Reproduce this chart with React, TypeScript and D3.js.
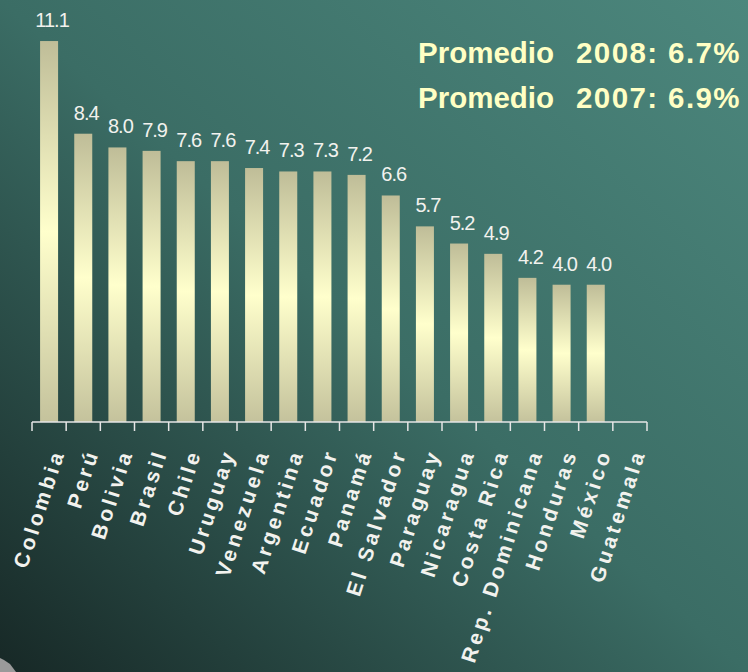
import React, { useEffect, useRef } from 'react';
import * as d3 from 'd3';

const countries = [
  'Colombia', 'Perú', 'Bolivia', 'Brasil', 'Chile', 'Uruguay', 'Venezuela', 'Argentina', 'Ecuador',
  'Panamá', 'El Salvador', 'Paraguay', 'Nicaragua', 'Costa Rica', 'Rep. Dominicana', 'Honduras',
  'México', 'Guatemala',
];
// Guatemala has no bar in the original
const values: (number | null)[] = [
  11.1, 8.4, 8.0, 7.9, 7.6, 7.6, 7.4, 7.3, 7.3, 7.2, 6.6, 5.7, 5.2, 4.9, 4.2, 4.0, 4.0, null,
];
const notes = ['Promedio 2008: 6.7%', 'Promedio 2007: 6.9%'];

function App() {
  const svgRef = useRef<SVGSVGElement>(null);

  useEffect(() => {
    const width = 748;
    const height = 672;
    const svg = d3.select(svgRef.current);
    svg.selectAll('*').remove();
    svg.attr('width', width).attr('height', height);

    const defs = svg.append('defs');
    const bg = defs.append('linearGradient').attr('id', 'bg')
      .attr('x1', 0).attr('y1', 1).attr('x2', 1).attr('y2', 0);
    bg.append('stop').attr('offset', '0%').attr('stop-color', '#172826');
    bg.append('stop').attr('offset', '50%').attr('stop-color', '#3b6d65');
    bg.append('stop').attr('offset', '100%').attr('stop-color', '#4c877d');

    const barGrad = defs.append('linearGradient').attr('id', 'bar')
      .attr('x1', 0).attr('y1', 0).attr('x2', 0).attr('y2', 1);
    barGrad.append('stop').attr('offset', '0%').attr('stop-color', '#bfbd98');
    barGrad.append('stop').attr('offset', '50%').attr('stop-color', '#ffffcc');
    barGrad.append('stop').attr('offset', '100%').attr('stop-color', '#c4c29c');

    svg.append('rect').attr('width', width).attr('height', height).attr('fill', 'url(#bg)');
    svg.append('path').attr('d', 'M0,658 L4,660 L10,664 L16,672 L0,672 Z').attr('fill', '#9a9a9a');

    const x0 = 32;
    const x1 = 647;
    const base = 422;
    const pad = 0.473;

    const x = d3.scaleBand().domain(countries).range([x0, x1])
      .paddingInner(pad).paddingOuter(pad / 2);
    const y = d3.scaleLinear().domain([0, 12]).range([base, base - 12 * 34.32]);

    const data = countries.map((c, i) => ({ c, v: values[i] }));
    const withBars = data.filter(d => d.v != null);

    svg.append('g').selectAll('rect').data(withBars).join('rect')
      .attr('x', d => x(d.c)!)
      .attr('y', d => y(d.v!))
      .attr('width', x.bandwidth())
      .attr('height', d => base - y(d.v!))
      .attr('fill', 'url(#bar)');

    svg.append('g').selectAll('text').data(withBars).join('text')
      .attr('x', d => x(d.c)! + x.bandwidth() / 2 + 3)
      .attr('y', d => y(d.v!) - 14)
      .attr('text-anchor', 'middle')
      .attr('font-family', 'Liberation Sans, Arial, sans-serif')
      .attr('font-size', 20)
      .attr('letter-spacing', -1)
      .attr('fill', '#f2f2ee')
      .text(d => d.v!.toFixed(1));

    // axis with ticks at band boundaries
    const step = x.step();
    const ax = svg.append('g').attr('stroke', '#e6e6e6').attr('stroke-width', 1.5);
    ax.append('line').attr('x1', x0).attr('x2', x1).attr('y1', base).attr('y2', base);
    ax.selectAll('line.tick').data(d3.range(countries.length + 1)).join('line')
      .attr('class', 'tick')
      .attr('x1', i => x0 + i * step).attr('x2', i => x0 + i * step)
      .attr('y1', base).attr('y2', base + 9);

    svg.append('g').selectAll('text').data(countries).join('text')
      .attr('transform', c => `translate(${x(c)! + x.bandwidth() / 2 + 16},${base + 30}) rotate(-72)`)
      .attr('text-anchor', 'end')
      .attr('font-family', 'Liberation Sans, Arial, sans-serif')
      .attr('font-weight', 'bold')
      .attr('font-size', 21)
      .attr('letter-spacing', 3.5)
      .attr('fill', '#f2f2ee')
      .text(c => c);

    const noteText = svg.append('g').selectAll('text').data(notes).join('text')
      .attr('x', 418)
      .attr('y', (d, i) => 63 + i * 45)
      .attr('font-family', 'Liberation Sans, Arial, sans-serif')
      .attr('font-weight', 'bold')
      .attr('font-size', 29.5)
      .attr('fill', '#ffffc4');
    noteText.append('tspan').text(d => d.slice(0, d.indexOf(' ')));
    noteText.append('tspan')
      .attr('dx', 22)
      .attr('letter-spacing', 1.4)
      .text(d => d.slice(d.indexOf(' ') + 1));
  }, []);

  return (
    <div style={{ position: 'absolute', left: 0, top: 0 }}>
      <svg ref={svgRef} style={{ display: 'block' }}></svg>
    </div>
  );
}

export default App;
